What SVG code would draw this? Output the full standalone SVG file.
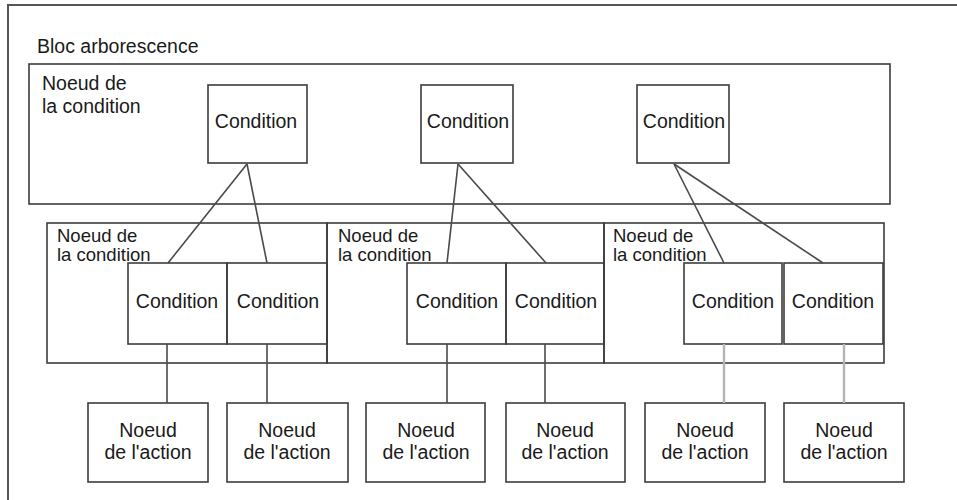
<svg xmlns="http://www.w3.org/2000/svg" width="957" height="500" viewBox="0 0 957 500">
  <style>
    .box { fill: none; stroke: #3c3c3c; stroke-width: 1.6; }
    .frame { fill: none; stroke: #555; stroke-width: 2; }
    .lbl { font-family: "Liberation Sans", Arial, sans-serif; font-size: 19.5px; fill: #1a1a1a; }
    .sub { font-size: 18.5px; }
    .mid { text-anchor: middle; }
    .link { stroke: #4a4a4a; stroke-width: 1.6; fill: none; }
    .link-light { stroke: #b4b4b4; stroke-width: 2.4; fill: none; }
  </style>
  <rect width="957" height="500" fill="#ffffff"/>

  <!-- tree block frame (open to the right and bottom) -->
  <g id="tree-block">
    <rect class="frame" x="8" y="5" width="1000" height="1000"/>
    <text class="lbl" x="37" y="53">Bloc arborescence</text>
  </g>

  <!-- root condition node -->
  <g id="root-node">
    <rect class="box" x="29" y="64" width="861" height="140"/>
    <text class="lbl" x="42" y="90">Noeud de</text>
    <text class="lbl" x="42" y="113">la condition</text>
  </g>
  <g id="root-cond-1">
    <rect class="box" x="208" y="85" width="99" height="78"/>
    <text class="lbl mid" x="256" y="128">Condition</text>
  </g>
  <g id="root-cond-2">
    <rect class="box" x="421" y="85" width="92" height="78"/>
    <text class="lbl mid" x="468" y="128">Condition</text>
  </g>
  <g id="root-cond-3">
    <rect class="box" x="637" y="85" width="92" height="78"/>
    <text class="lbl mid" x="684" y="128">Condition</text>
  </g>

  <!-- second-level condition nodes -->
  <g id="node-a">
    <rect class="box" x="47" y="223" width="280" height="140"/>
    <text class="lbl sub" x="57" y="242">Noeud de</text>
    <text class="lbl sub" x="57" y="261">la condition</text>
  </g>
  <g id="node-a-cond-1">
    <rect class="box" x="128" y="263" width="99" height="81"/>
    <text class="lbl mid" x="177" y="308">Condition</text>
  </g>
  <g id="node-a-cond-2">
    <rect class="box" x="227" y="263" width="100" height="81"/>
    <text class="lbl mid" x="278" y="308">Condition</text>
  </g>

  <g id="node-b">
    <rect class="box" x="327" y="223" width="277" height="140"/>
    <text class="lbl sub" x="338" y="242">Noeud de</text>
    <text class="lbl sub" x="338" y="261">la condition</text>
  </g>
  <g id="node-b-cond-1">
    <rect class="box" x="407" y="263" width="99" height="81"/>
    <text class="lbl mid" x="457" y="308">Condition</text>
  </g>
  <g id="node-b-cond-2">
    <rect class="box" x="506" y="263" width="98" height="81"/>
    <text class="lbl mid" x="556" y="308">Condition</text>
  </g>

  <g id="node-c">
    <rect class="box" x="604" y="223" width="280" height="140"/>
    <text class="lbl sub" x="613" y="242">Noeud de</text>
    <text class="lbl sub" x="613" y="261">la condition</text>
  </g>
  <g id="node-c-cond-1">
    <rect class="box" x="684" y="263" width="98" height="81"/>
    <text class="lbl mid" x="733" y="308">Condition</text>
  </g>
  <g id="node-c-cond-2">
    <rect class="box" x="784" y="263" width="99" height="81"/>
    <text class="lbl mid" x="833" y="308">Condition</text>
  </g>

  <!-- action nodes -->
  <g id="action-1">
    <rect class="box" x="88" y="403" width="120" height="79"/>
    <text class="lbl mid" x="148" y="437">Noeud</text>
    <text class="lbl mid" x="148" y="459">de l'action</text>
  </g>
  <g id="action-2">
    <rect class="box" x="227" y="403" width="121" height="79"/>
    <text class="lbl mid" x="287" y="437">Noeud</text>
    <text class="lbl mid" x="287" y="459">de l'action</text>
  </g>
  <g id="action-3">
    <rect class="box" x="366" y="403" width="119" height="79"/>
    <text class="lbl mid" x="426" y="437">Noeud</text>
    <text class="lbl mid" x="426" y="459">de l'action</text>
  </g>
  <g id="action-4">
    <rect class="box" x="506" y="403" width="119" height="79"/>
    <text class="lbl mid" x="565" y="437">Noeud</text>
    <text class="lbl mid" x="565" y="459">de l'action</text>
  </g>
  <g id="action-5">
    <rect class="box" x="645" y="403" width="120" height="79"/>
    <text class="lbl mid" x="705" y="437">Noeud</text>
    <text class="lbl mid" x="705" y="459">de l'action</text>
  </g>
  <g id="action-6">
    <rect class="box" x="784" y="403" width="120" height="79"/>
    <text class="lbl mid" x="844" y="437">Noeud</text>
    <text class="lbl mid" x="844" y="459">de l'action</text>
  </g>

  <!-- connectors -->
  <g id="connectors">
    <line class="link" x1="247" y1="164" x2="168" y2="263"/>
    <line class="link" x1="247" y1="164" x2="267" y2="263"/>
    <line class="link" x1="458" y1="164" x2="447" y2="263"/>
    <line class="link" x1="458" y1="164" x2="546" y2="263"/>
    <line class="link" x1="674" y1="164" x2="724" y2="263"/>
    <line class="link" x1="674" y1="164" x2="823" y2="263"/>

    <line class="link" x1="167" y1="344" x2="167" y2="403"/>
    <line class="link" x1="267" y1="344" x2="267" y2="403"/>
    <line class="link" x1="447" y1="344" x2="447" y2="403"/>
    <line class="link" x1="545" y1="344" x2="545" y2="403"/>
    <line class="link-light" x1="724" y1="344" x2="724" y2="403"/>
    <line class="link-light" x1="844" y1="344" x2="844" y2="403"/>
  </g>
</svg>
